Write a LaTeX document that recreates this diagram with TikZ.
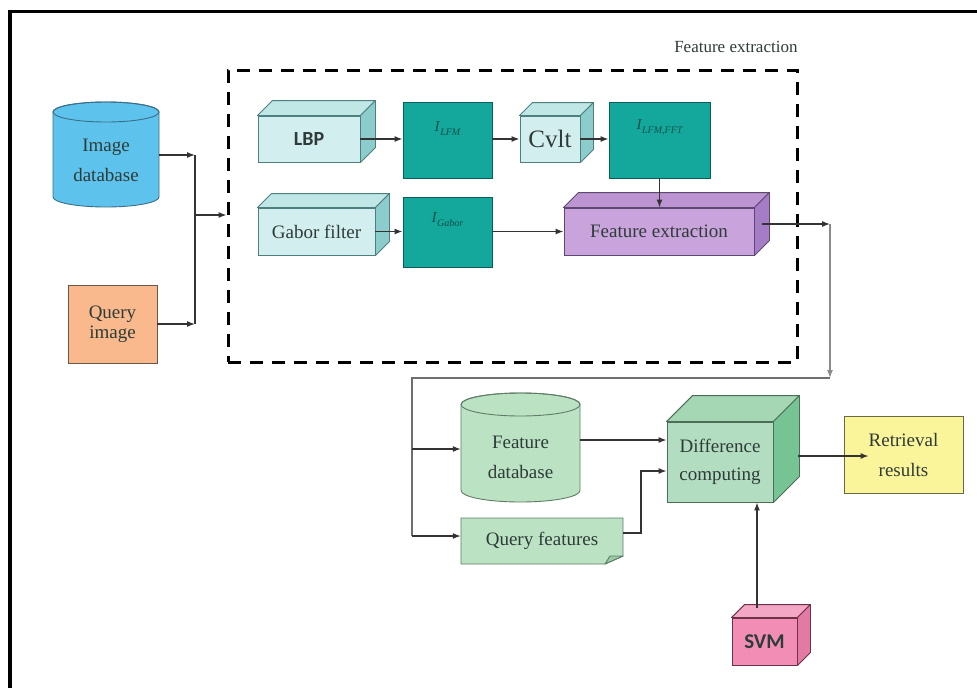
\documentclass[tikz,border=0pt]{standalone}
\usepackage{fontspec}
\setmainfont{Liberation Serif}
\newfontfamily\boldsans{Carlito}
\usetikzlibrary{arrows.meta}

\definecolor{txt}{HTML}{2E3B38}
\definecolor{linec}{HTML}{333333}
\definecolor{linegray}{HTML}{8A8A8A}
\definecolor{tealfill}{HTML}{14A89C}
\definecolor{tealedge}{HTML}{0D5E58}
\definecolor{tealtxt}{HTML}{0B4F4A}
% cuboid colour sets
\definecolor{cyfront}{HTML}{D2EEEE}\definecolor{cytop}{HTML}{C0E6E6}\definecolor{cyside}{HTML}{8CCCCC}\definecolor{cyedge}{HTML}{4E7F7F}
\definecolor{pufront}{HTML}{C9A3DC}\definecolor{putop}{HTML}{BC94D2}\definecolor{puside}{HTML}{A57CC6}\definecolor{puedge}{HTML}{5E4770}
\definecolor{gnfront}{HTML}{B3DDC0}\definecolor{gntop}{HTML}{A5D7B4}\definecolor{gnside}{HTML}{76C394}\definecolor{gnedge}{HTML}{4C6E58}
\definecolor{pkfront}{HTML}{F28EB5}\definecolor{pktop}{HTML}{F4A6C5}\definecolor{pkside}{HTML}{E27AA3}\definecolor{pkedge}{HTML}{6E3247}
\definecolor{blfill}{HTML}{5EC3EC}\definecolor{bledge}{HTML}{3B6E8A}
\definecolor{orfill}{HTML}{F9B98C}\definecolor{oredge}{HTML}{6B5747}
\definecolor{lgfill}{HTML}{BCE2C4}\definecolor{lgedge}{HTML}{5E7C66}\definecolor{lgfold}{HTML}{9CCBA8}
\definecolor{yefill}{HTML}{FAF49A}\definecolor{yeedge}{HTML}{6A6A40}

\newcommand\Isub[1]{\textit{I}\raisebox{-0.45ex}{\fontsize{10}{10}\selectfont\itshape #1}}

% cuboid: name, x, y, w, h, depth, colour prefix, text, font
\newcommand\mycube[9]{%
  \node[draw=#7edge, line width=0.9pt, fill=#7front, minimum width=#4pt, minimum height=#5pt,
        inner sep=0pt, text=txt, align=center, font=#9] (#1) at (#2,#3) {#8};
  \draw[draw=#7edge, line width=0.9pt, line join=round, fill=#7top] (#1.north west) -- ++(#6pt,#6pt)
     -- ([shift={(#6pt,#6pt)}]#1.north east) -- (#1.north east) -- cycle;
  \draw[draw=#7edge, line width=0.9pt, line join=round, fill=#7side] (#1.north east) -- ++(#6pt,#6pt)
     -- ([shift={(#6pt,#6pt)}]#1.south east) -- (#1.south east) -- cycle;
}
% cylinder body: cx, ytop, ybot, rx, ry, colour prefix
\newcommand\mycyl[6]{%
  \path[fill=#6fill, draw=#6edge, line width=0.9pt] (#1-#4,#2) -- (#1-#4,#3)
     arc[start angle=180, end angle=360, x radius=#4pt, y radius=#5pt] -- (#1+#4,#2)
     arc[start angle=0, end angle=180, x radius=#4pt, y radius=#5pt] -- cycle;
  \draw[draw=#6edge, line width=0.9pt] (#1,#2) ellipse[x radius=#4pt, y radius=#5pt];
}

\begin{document}
\begin{tikzpicture}[x=1pt, y=-1pt,
  arr/.style={draw=linec, line width=1.2pt, -{Latex[length=8pt,width=6pt]}},
  ln/.style={draw=linec, line width=1.2pt},
  lbl/.style={text=txt, align=center, font=\fontsize{19}{30}\selectfont},
  tealbox/.style={draw=tealedge, line width=0.9pt, fill=tealfill, inner sep=0pt},
  tlabel/.style={anchor=north, text=tealtxt, font=\fontsize{15}{15}\selectfont},
  plainbox/.style={line width=0.9pt, inner sep=0pt}]
\useasboundingbox (0,0) rectangle (977,688);
\fill[white] (0,0) rectangle (977,688);

% outer frame (top and left)
\draw[line width=3.5pt] (977,11.5) -- (10,11.5) -- (10,688);

% feature extraction dashed region
\node[draw=black, line width=3pt, dash pattern=on 13pt off 9pt, minimum width=569pt,
      minimum height=292pt, inner sep=0pt] (fx) at (512.5,216) {};
\node[anchor=east, text=txt, font=\fontsize{17}{20}\selectfont] (fxt) at (801,47) {Feature extraction};

% inputs
\mycyl{106}{112}{197}{53}{10}{bl}
\node[lbl, minimum width=106pt, minimum height=80pt, inner sep=0pt] (idb) at (106,160) {Image\\database};
\node[plainbox, draw=oredge, fill=orfill, minimum width=89pt, minimum height=78pt,
      lbl, font=\fontsize{19}{20}\selectfont] (qi) at (112.5,324) {Query\\image};

\coordinate (j1) at (195,155);
\coordinate (j2) at (195,324);
\coordinate (jm) at (195,215);
\draw[arr] (idb.east |- j1) -- (j1);
\draw[arr] (qi.east) -- (qi.east -| j2);
\draw[ln] (j1) -- (j2);
\draw[arr] (jm) -- (jm -| fx.west);

% upper row
\mycube{lbp}{309}{139}{102}{46}{15}{cy}{LBP}{\boldsans\bfseries\fontsize{20}{24}\selectfont}
\node[tealbox, minimum width=89pt, minimum height=76pt] (ilfm) at (447.5,140) {};
\node[tlabel] (ilfmt) at ([yshift=-17pt]ilfm.north) {\Isub{LFM}};
\mycube{cvlt}{550}{139}{60}{46}{13}{cy}{Cvlt}{\fontsize{25}{28}\selectfont}
\node[tealbox, minimum width=101pt, minimum height=76pt] (iff) at (659.5,140) {};
\node[tlabel] (ifft) at ([yshift=-15pt]iff.north) {\Isub{LFM,FFT}};

% lower row
\mycube{gab}{316.5}{231.5}{117}{47}{14}{cy}{Gabor filter}{\fontsize{19}{22}\selectfont}
\node[tealbox, minimum width=89pt, minimum height=70pt] (igab) at (447.5,232) {};
\node[tlabel] (igabt) at ([yshift=-13pt]igab.north) {\Isub{Gabor}};
\mycube{featx}{659}{231.5}{190}{47}{15}{pu}{Feature extraction}{\fontsize{19}{22}\selectfont}

\draw[arr] (lbp.east) -- (lbp.east -| ilfm.west);
\draw[arr] (ilfm.east |- cvlt.west) -- (cvlt.west);
\draw[arr] (cvlt.east) -- (cvlt.east -| iff.west);
\draw[arr] (iff.south) -- (iff.south |- featx.north);
\draw[arr] (gab.east) -- (gab.east -| igab.west);
\draw[arr] (igab.east |- featx.west) -- (featx.west);

% route to the retrieval part
\coordinate (c1) at (830,224);
\coordinate (c2) at (830,378);
\coordinate (c3) at (412,378);
\coordinate (c4) at (412,536);
\coordinate (b1) at (412,449);
\draw[arr] ([shift={(7.5pt,7.5pt)}]featx.east) -- (c1);
\draw[arr, draw=linegray] (c1) -- (c2);
\draw[ln, draw=linegray!80!black] (c2) -- (c3) -- (c4);

% feature database
\mycyl{520.5}{404.5}{490.5}{59.5}{11.5}{lg}
\node[lbl, minimum width=119pt, minimum height=70pt, inner sep=0pt] (fdb) at (520.5,457) {Feature\\database};

% query features (document shape)
\path[fill=lgfill, draw=lgedge, line width=0.9pt, line join=round] (461,518) -- (623,518) -- (623,556) -- (605,564) -- (461,564) -- cycle;
\path[fill=lgfold, draw=lgedge, line width=0.9pt, line join=round] (623,556) -- (605,564) -- (610,556) -- cycle;
\node[lbl, minimum width=162pt, minimum height=46pt, inner sep=0pt] (qf) at (542,541) {Query features};

\draw[arr] (b1) -- (b1 -| fdb.west);
\draw[arr] (c4) -- (c4 -| qf.west);

% difference computing, results, SVM
\mycube{dc}{720}{462}{106}{80}{26}{gn}{Difference\\computing}{\fontsize{19}{28}\selectfont}
\node[plainbox, draw=yeedge, fill=yefill, minimum width=119pt, minimum height=77pt,
      lbl] (rr) at (903.5,454.5) {Retrieval\\results};
\mycube{svm}{764.5}{641.5}{65}{47}{13}{pk}{SVM}{\boldsans\bfseries\fontsize{21}{24}\selectfont}

\coordinate (b3) at (641,471);
\coordinate (s1) at (757,608);
\draw[arr] ([yshift=17pt]fdb.east) -- ([yshift=17pt]fdb.east -| dc.west);
\draw[arr] ([yshift=8pt]qf.east) -| (b3) -- (b3 -| dc.west);
\draw[arr] ([shift={(25pt,6pt)}]dc.east) -- ([shift={(25pt,6pt)}]dc.east -| rr.west);
\draw[arr] (s1) -- (s1 |- dc.south);
\end{tikzpicture}
\end{document}
